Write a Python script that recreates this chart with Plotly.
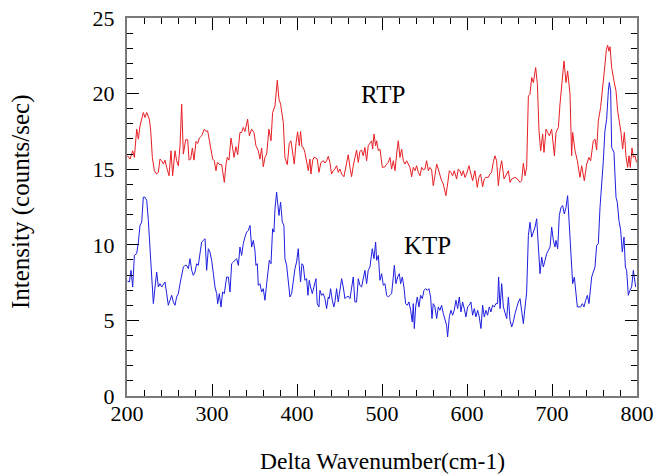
import plotly.graph_objects as go

x_rtp = [200.5, 203.6, 206.7, 208.7, 211.4, 213.4, 215.3, 219.2, 221.2, 223.2,
         226.3, 227.9, 229.8, 232.2, 234.9, 236.9, 238.8, 240.8, 242.8, 244.7,
         246.7, 249.4, 251.8, 253.7, 256.5, 258.4, 260.4, 262.4, 264.3, 266.3,
         269.0, 271.4, 273.0, 274.9, 276.9, 278.8, 281.2, 283.1, 285.1, 287.8,
         291.0, 292.9, 294.9, 297.6, 300.8, 302.7, 304.7, 306.3, 309.4, 311.4,
         313.3, 314.5, 316.5, 318.0, 320.0, 322.3, 324.3, 325.9, 328.2, 330.2,
         332.9, 334.9, 336.8, 338.8, 341.9, 343.9, 346.6, 349.4, 351.7, 354.5,
         356.4, 358.4, 360.3, 362.3, 364.3, 367.0, 369.4, 371.3, 374.1, 376.8,
         378.8, 380.7, 383.9, 385.8, 388.6, 390.9, 392.9, 394.8, 396.8, 398.8,
         400.7, 402.7, 404.2, 405.8, 407.4, 409.3, 411.3, 413.3, 415.2, 416.4,
         418.4, 419.9, 422.3, 423.8, 425.8, 428.2, 430.9, 432.9, 434.8, 436.8,
         438.7, 440.7, 442.7, 444.6, 446.6, 448.5, 450.5, 452.5, 455.2, 457.6,
         460.3, 462.3, 464.2, 466.2, 468.1, 470.1, 472.1, 474.0, 476.0, 477.9,
         479.9, 481.9, 483.8, 485.8, 487.8, 489.0, 490.6, 492.5, 493.7, 495.7,
         497.6, 500.4, 503.5, 505.5, 507.4, 509.4, 511.3, 513.3, 515.3, 517.2,
         519.2, 521.1, 523.1, 525.1, 527.0, 529.0, 530.9, 532.9, 534.9, 536.8,
         538.8, 540.7, 542.7, 544.7, 546.6, 548.6, 550.5, 552.5, 554.5, 556.4,
         558.4, 560.3, 562.3, 564.3, 566.2, 568.2, 570.1, 572.1, 575.2, 577.2,
         579.2, 581.1, 583.1, 585.0, 587.8, 589.7, 591.7, 593.7, 595.6, 597.6,
         599.5, 602.3, 604.6, 606.6, 609.3, 612.1, 614.0, 616.0, 618.4, 620.3,
         622.3, 625.0, 627.0, 628.9, 630.9, 632.9, 634.8, 636.9, 638.9, 640.8,
         643.6, 645.9, 648.7, 650.6, 652.6, 656.5, 659.2, 662.4, 664.3, 666.3,
         668.3, 670.2, 672.2, 674.1, 676.1, 678.1, 680.8, 682.8, 684.7, 686.7,
         689.0, 690.6, 693.0, 694.9, 696.9, 699.6, 702.8, 704.7, 707.5, 709.4,
         711.4, 714.1, 716.5, 718.4, 721.2, 723.1, 724.3, 727.1, 729.8, 732.9,
         734.9, 738.0, 740.8, 743.5, 745.5, 748.6, 750.6, 752.5, 754.5, 757.2,
         760.4, 762.3, 764.0, 765.5, 767.0, 768.3, 770.2, 772.9, 775.3, 777.2,
         779.2, 781.2, 783.1, 785.1, 787.0, 789.0, 790.6, 792.1, 794.1, 795.7,
         797.6, 799.5]
y_rtp = [15.90, 15.67, 16.22, 15.78, 17.65, 16.99, 17.87, 18.75, 18.42, 18.75,
         18.31, 17.54, 15.78, 14.90, 14.68, 14.79, 15.67, 15.56, 15.34, 15.60,
         15.12, 14.57, 16.22, 14.57, 16.22, 15.56, 15.23, 16.55, 19.30, 16.00,
         16.95, 16.95, 15.60, 15.67, 16.40, 15.60, 16.84, 16.70, 17.06, 17.21,
         17.65, 17.50, 17.54, 16.55, 15.67, 15.56, 14.90, 15.45, 15.30, 15.30,
         14.68, 14.13, 15.34, 15.78, 15.60, 17.06, 16.40, 15.78, 16.49, 15.96,
         17.43, 17.43, 17.76, 17.50, 18.31, 17.21, 17.65, 17.43, 16.55, 16.22,
         15.67, 16.40, 15.16, 15.78, 16.00, 17.65, 16.88, 18.75, 19.19, 20.88,
         19.63, 19.30, 18.09, 15.78, 15.30, 16.70, 16.88, 16.22, 15.34, 16.70,
         17.47, 16.55, 17.50, 16.49, 16.44, 16.11, 15.56, 14.90, 15.67, 14.68,
         15.56, 15.78, 15.74, 15.67, 14.79, 15.45, 15.56, 15.41, 15.56, 15.85,
         15.45, 14.68, 14.90, 15.01, 15.23, 14.79, 15.01, 14.68, 14.50, 15.16,
         15.96, 15.12, 14.50, 15.23, 15.78, 16.27, 15.45, 16.18, 16.27, 15.89,
         16.44, 15.56, 16.55, 16.70, 16.88, 16.33, 17.32, 16.55, 16.88, 16.22,
         16.33, 15.12, 15.16, 15.34, 15.45, 15.78, 15.01, 15.56, 14.90, 16.00,
         16.88, 15.78, 16.33, 15.56, 15.34, 15.56, 15.34, 15.12, 14.50, 15.12,
         14.90, 15.23, 14.79, 14.57, 15.12, 14.95, 15.01, 15.56, 14.90, 15.12,
         14.95, 13.91, 14.57, 15.34, 15.01, 14.50, 14.24, 14.02, 13.25, 14.02,
         14.90, 14.79, 14.57, 14.90, 14.35, 15.01, 14.90, 14.57, 14.90, 14.46,
         14.68, 15.23, 14.57, 14.24, 14.90, 13.80, 14.46, 14.68, 13.84, 14.35,
         14.46, 14.46, 14.68, 14.79, 15.45, 15.89, 15.56, 13.91, 15.01, 15.56,
         14.35, 14.57, 14.90, 14.13, 14.35, 14.46, 14.35, 14.13, 14.24, 15.39,
         14.57, 15.12, 19.85, 19.96, 21.06, 20.73, 21.72, 20.62, 17.54, 16.22,
         17.32, 16.11, 17.65, 17.43, 17.21, 17.65, 15.89, 17.43, 17.76, 19.30,
         20.73, 22.16, 20.73, 21.50, 19.96, 15.89, 17.43, 16.22, 15.56, 14.46,
         15.23, 14.24, 15.34, 15.78, 15.56, 16.88, 16.99, 16.27, 18.20, 19.08,
         20.84, 22.16, 22.90, 23.20, 22.80, 23.10, 21.72, 20.84, 20.18, 18.86,
         18.09, 17.43, 16.33, 17.43, 15.89, 15.12, 15.89, 15.12, 16.40, 15.78,
         15.89, 15.45]

x_ktp = [200.5, 202.8, 204.7, 206.7, 208.7, 211.4, 213.4, 215.3, 217.3, 219.2,
         221.2, 223.2, 225.1, 227.1, 229.0, 231.0, 233.0, 234.9, 236.9, 238.8,
         240.8, 242.8, 244.7, 246.7, 248.6, 250.6, 252.6, 254.5, 256.5, 258.4,
         260.4, 262.4, 264.3, 266.3, 268.2, 270.2, 272.2, 274.1, 276.1, 278.0,
         280.0, 282.0, 283.9, 285.9, 287.8, 289.8, 291.8, 293.7, 295.7, 297.6,
         299.6, 301.6, 303.5, 305.5, 306.7, 308.6, 310.6, 312.5, 314.5, 317.2,
         319.2, 321.2, 323.1, 325.1, 327.0, 329.0, 331.0, 332.9, 334.9, 336.8,
         338.8, 340.8, 342.7, 344.7, 346.6, 348.6, 350.5, 351.7, 353.3, 354.5,
         356.4, 358.4, 360.3, 362.3, 364.3, 366.2, 367.4, 369.4, 371.3, 372.9,
         374.1, 376.0, 377.2, 378.8, 380.7, 382.7, 384.6, 385.8, 387.8, 389.7,
         391.7, 393.7, 395.6, 397.6, 399.5, 401.5, 402.7, 404.2, 405.8, 407.4,
         409.3, 411.3, 412.9, 414.4, 416.0, 418.0, 419.9, 422.3, 423.8, 425.8,
         427.0, 428.9, 430.9, 432.9, 434.8, 436.8, 437.9, 439.5, 441.5, 443.4,
         444.6, 446.6, 448.5, 450.5, 452.5, 454.4, 456.4, 458.3, 460.3, 462.3,
         464.2, 466.2, 468.1, 470.1, 472.1, 474.0, 476.0, 477.9, 479.9, 481.9,
         483.8, 485.8, 488.6, 490.6, 492.5, 493.7, 495.7, 497.6, 499.6, 501.5,
         503.5, 505.5, 507.4, 509.4, 511.3, 513.3, 514.5, 516.4, 518.4, 520.4,
         521.9, 523.9, 525.8, 527.8, 529.8, 531.7, 533.7, 535.6, 536.8, 538.0,
         539.6, 541.5, 543.5, 545.4, 547.4, 549.4, 551.3, 553.3, 555.2, 557.2,
         558.8, 560.3, 562.3, 564.3, 566.2, 568.2, 570.1, 572.1, 574.1, 576.0,
         577.2, 579.2, 581.1, 583.1, 585.0, 587.0, 589.0, 590.9, 592.9, 594.8,
         596.8, 598.8, 600.7, 602.7, 604.6, 606.6, 608.6, 610.5, 612.5, 614.4,
         616.4, 618.4, 620.3, 622.3, 624.2, 626.2, 628.2, 630.1, 632.1, 634.0,
         636.0, 637.2, 638.9, 640.8, 642.8, 644.7, 646.7, 648.7, 650.6, 652.6,
         654.5, 656.5, 658.5, 660.4, 662.4, 664.3, 666.3, 668.3, 670.2, 672.2,
         674.1, 676.1, 678.1, 680.0, 682.0, 683.9, 685.9, 687.9, 689.8, 691.8,
         693.7, 695.7, 697.7, 699.6, 701.6, 703.5, 704.7, 706.7, 708.6, 710.6,
         712.6, 714.5, 716.5, 718.4, 720.4, 722.4, 724.3, 726.3, 728.2, 729.8,
         731.8, 733.7, 735.7, 737.6, 739.6, 741.6, 743.5, 744.7, 746.7, 748.6,
         750.6, 752.5, 754.5, 756.5, 758.4, 760.4, 762.3, 764.3, 766.3, 767.4,
         769.0, 770.2, 772.9, 775.3, 776.8, 778.8, 780.8, 782.7, 784.7, 786.3,
         787.8, 789.8, 791.7, 793.7, 795.7, 796.8, 798.4]
y_ktp = [7.60, 7.54, 8.31, 7.21, 9.30, 9.41, 10.18, 11.28, 11.50, 13.15,
         13.15, 12.93, 11.61, 9.85, 7.65, 6.11, 7.21, 8.20, 7.21, 7.43,
         7.21, 7.43, 7.54, 6.77, 6.00, 6.33, 6.66, 6.22, 6.00, 6.55,
         6.77, 7.43, 7.87, 8.53, 8.64, 8.64, 8.42, 9.08, 8.31, 7.98,
         8.20, 8.75, 8.64, 9.41, 10.18, 10.29, 10.40, 8.31, 9.74, 9.52,
         8.97, 8.09, 7.21, 6.77, 6.11, 6.77, 5.89, 6.88, 6.77, 7.87,
         7.87, 6.88, 8.75, 8.86, 8.97, 9.08, 8.64, 9.85, 9.30, 10.07,
         10.51, 10.84, 10.95, 11.28, 9.85, 10.29, 9.63, 8.64, 8.75, 7.32,
         7.43, 6.88, 7.10, 6.33, 7.43, 8.31, 8.97, 8.75, 11.06, 10.84,
         12.38, 13.48, 12.93, 11.94, 12.82, 11.50, 11.28, 9.08, 8.64, 7.65,
         6.55, 6.77, 7.65, 8.42, 8.86, 9.74, 8.64, 7.54, 8.75, 8.64,
         7.65, 7.76, 6.66, 7.65, 7.21, 6.77, 7.21, 7.76, 6.11, 5.89,
         6.99, 6.66, 6.77, 6.44, 5.78, 6.55, 6.44, 7.10, 6.33, 5.89,
         6.22, 7.10, 6.22, 6.88, 7.76, 7.21, 6.44, 6.55, 6.60, 6.44,
         7.21, 7.87, 6.22, 6.22, 7.76, 7.32, 7.21, 7.76, 8.31, 7.43,
         8.31, 8.53, 9.74, 9.08, 10.18, 8.97, 9.30, 7.65, 8.09, 7.32,
         7.43, 6.66, 6.55, 6.66, 6.77, 7.87, 8.64, 7.43, 7.87, 8.09,
         7.43, 7.87, 7.21, 6.11, 6.00, 6.22, 5.67, 4.90, 6.11, 4.46,
         5.89, 6.55, 5.89, 6.66, 6.44, 6.99, 7.10, 6.99, 7.10, 6.55,
         5.12, 6.11, 5.89, 5.12, 5.89, 5.67, 6.00, 5.45, 5.12, 4.68,
         3.91, 5.23, 5.67, 5.34, 5.67, 6.33, 5.78, 6.55, 5.56, 6.22,
         5.78, 5.23, 5.89, 6.00, 6.22, 5.34, 5.78, 5.23, 5.67, 5.23,
         4.46, 6.00, 5.23, 5.67, 5.34, 5.89, 5.56, 6.00, 5.89, 6.11,
         6.11, 7.87, 5.78, 7.43, 5.89, 5.45, 5.12, 6.55, 5.01, 4.57,
         4.90, 5.45, 5.89, 6.22, 6.44, 5.45, 4.79, 5.89, 6.88, 10.62,
         11.49, 10.51, 10.84, 11.17, 11.72, 9.85, 8.09, 9.19, 8.53, 8.97,
         9.41, 9.63, 9.85, 11.17, 10.29, 9.85, 10.29, 9.74, 11.94, 12.48,
         12.59, 12.04, 12.48, 13.25, 11.17, 8.75, 7.43, 7.87, 6.77, 5.89,
         5.89, 5.89, 6.11, 5.89, 6.33, 6.66, 6.11, 6.99, 7.87, 8.20,
         8.53, 9.96, 10.07, 12.48, 13.80, 15.56, 17.54, 18.31, 20.18, 20.73,
         20.18, 16.44, 16.11, 13.14, 12.81, 11.60, 10.95, 9.52, 10.51, 8.53,
         8.31, 6.66, 6.99, 7.21, 8.31, 7.87, 7.21]

x_ticks = [200, 300, 400, 500, 600, 700, 800]
y_ticks = [0, 5, 10, 15, 20, 25]

FONT = "Liberation Serif, Times New Roman, serif"

fig = go.Figure()
fig.add_trace(go.Scatter(x=x_rtp, y=y_rtp, mode="lines", name="RTP",
                         line=dict(color="rgb(232,30,36)", width=1)))
fig.add_trace(go.Scatter(x=x_ktp, y=y_ktp, mode="lines", name="KTP",
                         line=dict(color="rgb(30,30,225)", width=1)))

axis_common = dict(
    showgrid=False, zeroline=False, showline=True, linecolor="#7a7a7a",
    linewidth=2, mirror="allticks", ticks="inside", ticklen=12, tickwidth=1,
    tickcolor="black", tickfont=dict(family=FONT, size=22, color="black"),
    automargin=False, ticklabeloverflow="allow",
)

fig.update_xaxes(range=[200, 800], tickvals=x_ticks, ticklabelstandoff=-3,
                 minor=dict(dtick=20, ticks="inside", ticklen=6, tickcolor="black"),
                 **axis_common)
fig.update_yaxes(range=[0, 25], tickvals=y_ticks, ticklabelstandoff=6,
                 minor=dict(dtick=1, ticks="inside", ticklen=6, tickcolor="black"),
                 **axis_common)

fig.add_annotation(x=501.5, y=19.97, text="RTP", showarrow=False,
                   xanchor="center", yanchor="middle",
                   font=dict(family=FONT, size=25, color="black"))
fig.add_annotation(x=553.9, y=9.96, text="KTP", showarrow=False,
                   xanchor="center", yanchor="middle",
                   font=dict(family=FONT, size=25, color="black"))
fig.add_annotation(xref="paper", yref="paper", x=0.5, y=0, yshift=-65,
                   xanchor="center", yanchor="middle",
                   text="Delta Wavenumber(cm-1)", showarrow=False,
                   font=dict(family=FONT, size=23.5, color="black"))
fig.add_annotation(xref="paper", yref="paper", x=0, y=0.5, xshift=-106, yshift=5,
                   xanchor="center", yanchor="middle",
                   text="Intensity (counts/sec)", showarrow=False, textangle=-90,
                   font=dict(family=FONT, size=25, color="black"))

fig.update_layout(
    width=655, height=474, showlegend=False,
    margin=dict(l=127, r=18, t=18, b=78, autoexpand=False),
    paper_bgcolor="white", plot_bgcolor="white",
)

fig.write_html("out.html", config={"displayModeBar": False},
               post_script="document.body.style.margin='0';")
